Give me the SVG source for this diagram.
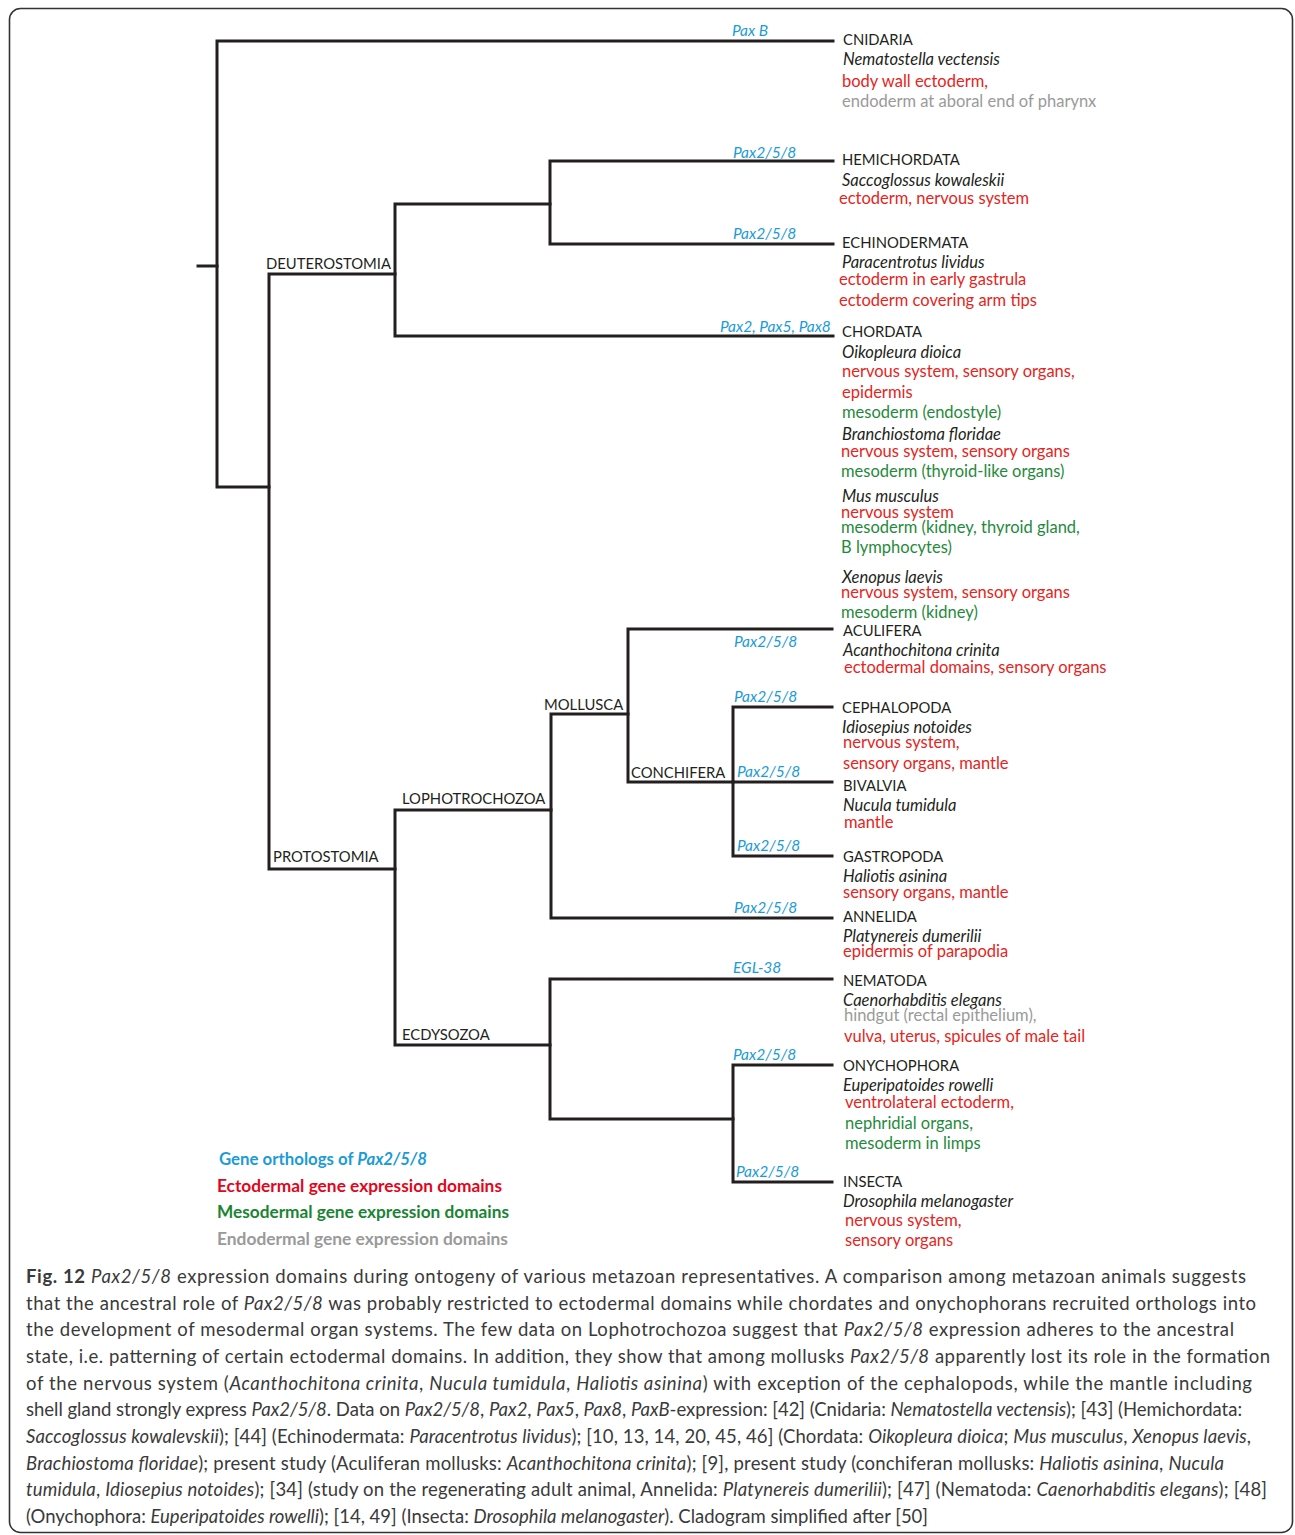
<svg xmlns="http://www.w3.org/2000/svg" width="1295" height="1535" viewBox="0 0 1295 1535">
<style>
text{font-family:Lato,"Liberation Sans",sans-serif;font-size:16.5px;fill:#231f20}
.n{font-size:14.8px}
.i{font-style:italic}
.g{fill:#1b9bd7;font-style:italic;font-size:15.5px}
.r{fill:#e52521}
.m{fill:#1f8a3b}
.e{fill:#9a9a9a}
.cl{font-size:14.8px}
.lg{font-weight:bold;font-size:16.5px}
.cap{font-size:18.5px;fill:#3a3a3a}
.b{font-weight:bold}
.tree path{fill:none;stroke:#231f20;stroke-width:3;stroke-linecap:square;stroke-linejoin:miter}
</style>
<rect x="9.5" y="8.5" width="1283" height="1524" rx="11" fill="#fff" stroke="#333" stroke-width="1.6"/>
<g id="connectors" class="tree">
<path d="M198,266 H217"/>
<path d="M833,41 H217 V487 H269"/>
<path d="M395,274 H269 V869 H395"/>
<path d="M550,204 H395 V336 H833"/>
<path d="M833,161 H550 V244 H833"/>
<path d="M551,810 H395 V1045 H550"/>
<path d="M628,714 H551 V918 H832"/>
<path d="M832,629 H628 V782 H733"/>
<path d="M832,707 H733 V856 H832"/>
<path d="M733,782 H832"/>
<path d="M832,979 H550 V1119 H733"/>
<path d="M832,1065 H733 V1182 H832"/>
</g>
<g id="clade-deuterostomia"><text class="cl" x="266" y="269">DEUTEROSTOMIA</text></g>
<g id="clade-protostomia"><text class="cl" x="273" y="862">PROTOSTOMIA</text></g>
<g id="clade-lophotrochozoa"><text class="cl" x="402" y="804">LOPHOTROCHOZOA</text></g>
<g id="clade-mollusca"><text class="cl" x="544" y="710">MOLLUSCA</text></g>
<g id="clade-conchifera"><text class="cl" x="631" y="778">CONCHIFERA</text></g>
<g id="clade-ecdysozoa"><text class="cl" x="402" y="1040">ECDYSOZOA</text></g>
<g id="cnidaria">
<text class="g" x="732" y="36">Pax B</text>
<text class="n" x="843" y="45">CNIDARIA</text>
<text class="i" x="843" y="65">Nematostella vectensis</text>
<text class="r" x="842" y="87">body wall ectoderm,</text>
<text class="e" x="842" y="107">endoderm at aboral end of pharynx</text>
</g>
<g id="hemichordata">
<text class="g" x="733" y="158">Pax2/5/8</text>
<text class="n" x="842" y="165">HEMICHORDATA</text>
<text class="i" x="842" y="186">Saccoglossus kowaleskii</text>
<text class="r" x="839" y="204">ectoderm, nervous system</text>
</g>
<g id="echinodermata">
<text class="g" x="733" y="239">Pax2/5/8</text>
<text class="n" x="842" y="248">ECHINODERMATA</text>
<text class="i" x="842" y="268">Paracentrotus lividus</text>
<text class="r" x="839" y="285">ectoderm in early gastrula</text>
<text class="r" x="839" y="306">ectoderm covering arm tips</text>
</g>
<g id="chordata">
<text class="g" x="720" y="332">Pax2, Pax5, Pax8</text>
<text class="n" x="842" y="337">CHORDATA</text>
<text class="i" x="842" y="358">Oikopleura dioica</text>
<text class="r" x="842" y="377">nervous system, sensory organs,</text>
<text class="r" x="842" y="398">epidermis</text>
<text class="m" x="842" y="418">mesoderm (endostyle)</text>
<text class="i" x="842" y="440">Branchiostoma floridae</text>
<text class="r" x="841" y="457">nervous system, sensory organs</text>
<text class="m" x="841" y="477">mesoderm (thyroid-like organs)</text>
<text class="i" x="842" y="502">Mus musculus</text>
<text class="r" x="841" y="518">nervous system</text>
<text class="m" x="841" y="533">mesoderm (kidney, thyroid gland,</text>
<text class="m" x="841" y="553">B lymphocytes)</text>
<text class="i" x="842" y="583">Xenopus laevis</text>
<text class="r" x="841" y="598">nervous system, sensory organs</text>
<text class="m" x="841" y="618">mesoderm (kidney)</text>
</g>
<g id="aculifera">
<text class="g" x="734" y="647">Pax2/5/8</text>
<text class="n" x="843" y="636">ACULIFERA</text>
<text class="i" x="843" y="656">Acanthochitona crinita</text>
<text class="r" x="844" y="673">ectodermal domains, sensory organs</text>
</g>
<g id="cephalopoda">
<text class="g" x="734" y="702">Pax2/5/8</text>
<text class="n" x="842" y="713">CEPHALOPODA</text>
<text class="i" x="842" y="733">Idiosepius notoides</text>
<text class="r" x="843" y="748">nervous system,</text>
<text class="r" x="843" y="769">sensory organs, mantle</text>
</g>
<g id="bivalvia">
<text class="g" x="737" y="777">Pax2/5/8</text>
<text class="n" x="843" y="791">BIVALVIA</text>
<text class="i" x="843" y="811">Nucula tumidula</text>
<text class="r" x="844" y="828">mantle</text>
</g>
<g id="gastropoda">
<text class="g" x="737" y="851">Pax2/5/8</text>
<text class="n" x="843" y="862">GASTROPODA</text>
<text class="i" x="843" y="882">Haliotis asinina</text>
<text class="r" x="843" y="898">sensory organs, mantle</text>
</g>
<g id="annelida">
<text class="g" x="734" y="913">Pax2/5/8</text>
<text class="n" x="843" y="922">ANNELIDA</text>
<text class="i" x="843" y="942">Platynereis dumerilii</text>
<text class="r" x="843" y="957">epidermis of parapodia</text>
</g>
<g id="nematoda">
<text class="g" x="733" y="973">EGL-38</text>
<text class="n" x="843" y="986">NEMATODA</text>
<text class="i" x="843" y="1006">Caenorhabditis elegans</text>
<text class="e" x="844" y="1021">hindgut (rectal epithelium),</text>
<text class="r" x="844" y="1042">vulva, uterus, spicules of male tail</text>
</g>
<g id="onychophora">
<text class="g" x="733" y="1060">Pax2/5/8</text>
<text class="n" x="843" y="1071">ONYCHOPHORA</text>
<text class="i" x="843" y="1091">Euperipatoides rowelli</text>
<text class="r" x="845" y="1108">ventrolateral ectoderm,</text>
<text class="m" x="845" y="1129">nephridial organs,</text>
<text class="m" x="845" y="1149">mesoderm in limps</text>
</g>
<g id="insecta">
<text class="g" x="736" y="1177">Pax2/5/8</text>
<text class="n" x="843" y="1187">INSECTA</text>
<text class="i" x="843" y="1207">Drosophila melanogaster</text>
<text class="r" x="845" y="1226">nervous system,</text>
<text class="r" x="845" y="1246">sensory organs</text>
</g>
<g id="legend">
<text class="lg" x="219" y="1165" textLength="208" lengthAdjust="spacingAndGlyphs" style="fill:#1b9bd7">Gene orthologs of <tspan class="i">Pax2/5/8</tspan></text>
<text class="lg" x="217" y="1192" textLength="285" lengthAdjust="spacingAndGlyphs" style="fill:#e2061c">Ectodermal gene expression domains</text>
<text class="lg" x="217" y="1218" textLength="292" lengthAdjust="spacingAndGlyphs" style="fill:#1a8433">Mesodermal gene expression domains</text>
<text class="lg" x="217" y="1245" textLength="291" lengthAdjust="spacingAndGlyphs" style="fill:#9a9a9a">Endodermal gene expression domains</text>
</g>
<g id="caption">
<text class="cap" x="26" y="1283" textLength="1220" lengthAdjust="spacing"><tspan class="b">Fig. 12</tspan> <tspan class="i">Pax2/5/8</tspan> expression domains during ontogeny of various metazoan representatives. A comparison among metazoan animals suggests</text>
<text class="cap" x="26" y="1310" textLength="1230" lengthAdjust="spacing">that the ancestral role of <tspan class="i">Pax2/5/8</tspan> was probably restricted to ectodermal domains while chordates and onychophorans recruited orthologs into</text>
<text class="cap" x="26" y="1336" textLength="1208" lengthAdjust="spacing">the development of mesodermal organ systems. The few data on Lophotrochozoa suggest that <tspan class="i">Pax2/5/8</tspan> expression adheres to the ancestral</text>
<text class="cap" x="26" y="1363" textLength="1244" lengthAdjust="spacing">state, i.e. patterning of certain ectodermal domains. In addition, they show that among mollusks <tspan class="i">Pax2/5/8</tspan> apparently lost its role in the formation</text>
<text class="cap" x="26" y="1390" textLength="1226" lengthAdjust="spacing">of the nervous system (<tspan class="i">Acanthochitona crinita</tspan>, <tspan class="i">Nucula tumidula</tspan>, <tspan class="i">Haliotis asinina</tspan>) with exception of the cephalopods, while the mantle including</text>
<text class="cap" x="26" y="1416" textLength="1216" lengthAdjust="spacing">shell gland strongly express <tspan class="i">Pax2/5/8</tspan>. Data on <tspan class="i">Pax2/5/8</tspan>, <tspan class="i">Pax2</tspan>, <tspan class="i">Pax5</tspan>, <tspan class="i">Pax8</tspan>, <tspan class="i">PaxB</tspan>-expression: [42] (Cnidaria: <tspan class="i">Nematostella vectensis</tspan>); [43] (Hemichordata:</text>
<text class="cap" x="26" y="1443" textLength="1225" lengthAdjust="spacing"><tspan class="i">Saccoglossus kowalevskii</tspan>); [44] (Echinodermata: <tspan class="i">Paracentrotus lividus</tspan>); [10, 13, 14, 20, 45, 46] (Chordata: <tspan class="i">Oikopleura dioica</tspan>; <tspan class="i">Mus musculus</tspan>, <tspan class="i">Xenopus laevis</tspan>,</text>
<text class="cap" x="26" y="1470" textLength="1198" lengthAdjust="spacing"><tspan class="i">Brachiostoma floridae</tspan>); present study (Aculiferan mollusks: <tspan class="i">Acanthochitona crinita</tspan>); [9], present study (conchiferan mollusks: <tspan class="i">Haliotis asinina</tspan>, <tspan class="i">Nucula</tspan></text>
<text class="cap" x="26" y="1496" textLength="1241" lengthAdjust="spacing"><tspan class="i">tumidula</tspan>, <tspan class="i">Idiosepius notoides</tspan>); [34] (study on the regenerating adult animal, Annelida: <tspan class="i">Platynereis dumerilii</tspan>); [47] (Nematoda: <tspan class="i">Caenorhabditis elegans</tspan>); [48]</text>
<text class="cap" x="26" y="1523">(Onychophora: <tspan class="i">Euperipatoides rowelli</tspan>); [14, 49] (Insecta: <tspan class="i">Drosophila melanogaster</tspan>). Cladogram simplified after [50]</text>
</g>
</svg>
